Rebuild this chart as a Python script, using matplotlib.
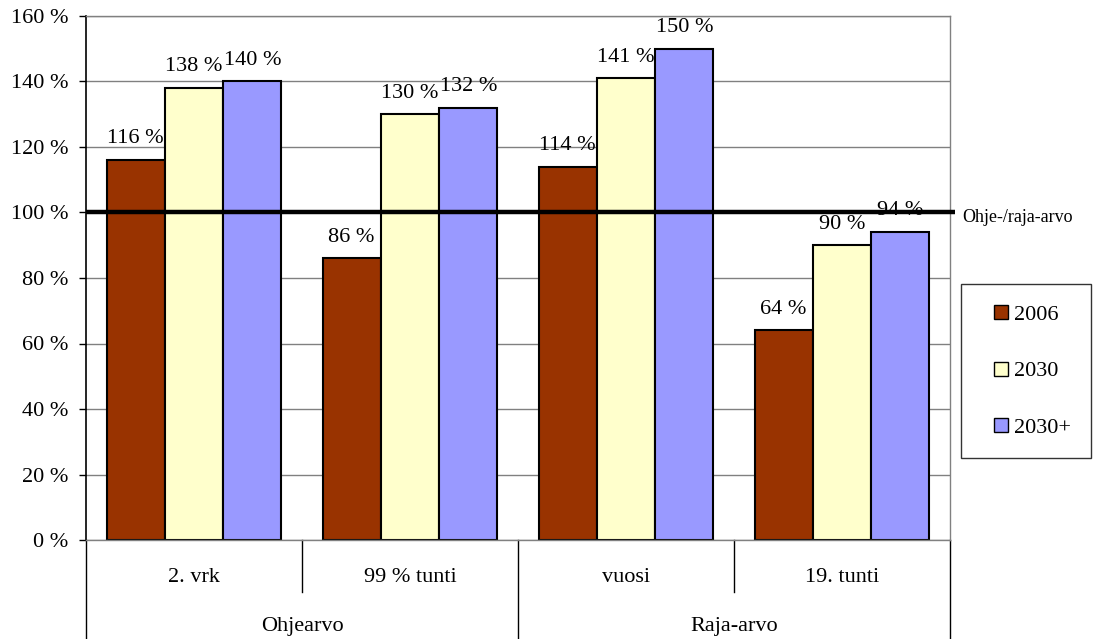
import matplotlib
matplotlib.use("Agg")
import matplotlib.pyplot as plt
import matplotlib.transforms as mtransforms
from matplotlib.lines import Line2D

plt.rcParams['font.family'] = ['Liberation Serif', 'DejaVu Serif']

# category axis: lower level and upper level
categories = ["2. vrk", "99 % tunti", "vuosi", "19. tunti"]
groups = ["Ohjearvo", "Raja-arvo"]
group_sizes = [2, 2]

series = ["2006", "2030", "2030+"]
values_2006 = [116, 86, 114, 64]
values_2030 = [138, 130, 141, 90]
values_2030plus = [140, 132, 150, 94]
colors = ["#993300", "#FFFFCC", "#9999FF"]

limit_value = 100
limit_label = "Ohje-/raja-arvo"
yticks = [0, 20, 40, 60, 80, 100, 120, 140, 160]

W, H = 1093, 639
fig = plt.figure(figsize=(W / 100, H / 100), dpi=100)
ax = fig.add_axes([86 / W, (H - 540) / H, 864 / W, 524 / H])

bar_w = 0.27
all_values = [values_2006, values_2030, values_2030plus]
for i, (vals, col, name) in enumerate(zip(all_values, colors, series)):
    xs = [c + 0.5 + (i - 1) * bar_w for c in range(len(categories))]
    bars = ax.bar(xs, vals, width=bar_w, color=col, edgecolor='black',
                  linewidth=1.5, label=name, zorder=2)
    for b, v in zip(bars, vals):
        ax.annotate(f"{v} %", (b.get_x() + b.get_width() / 2, v),
                    xytext=(0, 12), textcoords='offset points',
                    ha='center', va='baseline', fontsize=16, zorder=3)

# guideline / limit value line
ax.plot([0, 4.025], [limit_value, limit_value], color='black', lw=3.2,
        clip_on=False, zorder=5, solid_capstyle='butt')
ax.annotate(limit_label, (4, limit_value), xytext=(9, -3.5),
            textcoords='offset points', ha='left', va='center',
            fontsize=13, annotation_clip=False)

ax.set_xlim(0, 4)
ax.set_ylim(0, 160)
ax.set_yticks(yticks)
ax.set_yticklabels([f"{t} %" for t in yticks], fontsize=16)
ax.set_xticks([])
ax.tick_params(axis='y', length=5, width=1, pad=7.5, color='black')
ax.yaxis.grid(True, color='#808080', lw=1)
ax.set_axisbelow(True)
for side in ['top', 'right', 'bottom']:
    ax.spines[side].set_color('#808080')
    ax.spines[side].set_linewidth(1)
ax.spines['left'].set_color('black')
ax.spines['left'].set_linewidth(1.2)

# two-level category labels below the axis
trans = mtransforms.blended_transform_factory(ax.transData, fig.transFigure)
y_axis = (H - 540) / H
y_mid = (H - 592) / H
group_edges = [0]
for n in group_sizes:
    group_edges.append(group_edges[-1] + n)
for x in range(len(categories) + 1):
    y_end = 0 if x in group_edges else y_mid
    ax.plot([x, x], [y_axis, y_end], transform=trans, color='black',
            lw=1, clip_on=False)
for i, cat in enumerate(categories):
    ax.text(i + 0.5, (H - 577) / H, cat, transform=trans, ha='center',
            va='center', fontsize=16)
for g, name in enumerate(groups):
    center = (group_edges[g] + group_edges[g + 1]) / 2
    ax.text(center, (H - 627) / H, name, transform=trans, ha='center',
            va='center', fontsize=16)

handles = [Line2D([], [], marker='s', linestyle='none', markersize=9.4,
                  markerfacecolor=c, markeredgecolor='black',
                  markeredgewidth=1, label=s)
           for c, s in zip(colors, series)]
leg = fig.legend(handles=handles, loc='upper left',
                 bbox_to_anchor=(961 / W, 1 - 284 / H), fontsize=16,
                 frameon=True, fancybox=False, edgecolor='black',
                 handlelength=1.77, handletextpad=-0.27,
                 labelspacing=1.63, borderpad=0.9, borderaxespad=0)
leg.get_frame().set_linewidth(1)

fig.savefig("out.png", dpi=100)
